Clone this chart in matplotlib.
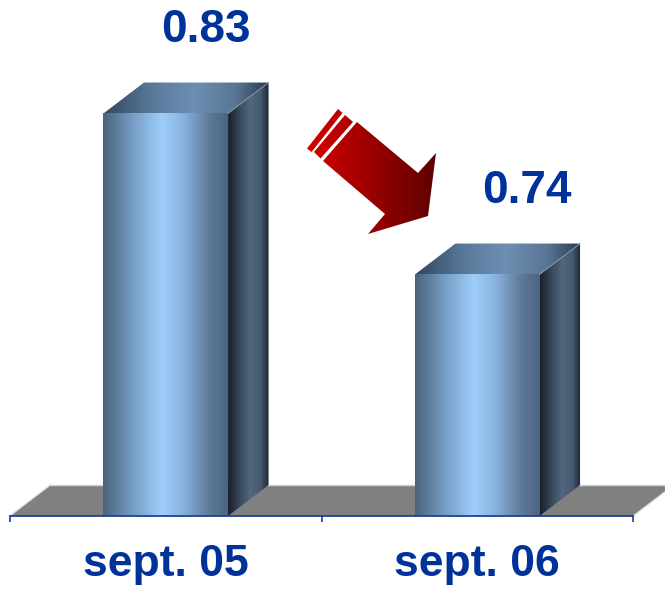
import numpy as np
import matplotlib
matplotlib.use('Agg')
import matplotlib.pyplot as plt
from matplotlib.patches import Polygon
from matplotlib.colors import LinearSegmentedColormap

categories = ['sept. 05', 'sept. 06']
values = [0.83, 0.74]
value_labels = ['0.83', '0.74']

BLUE_TXT = '#00339a'
plt.rcParams['font.family'] = ['Liberation Sans', 'DejaVu Sans']

fig = plt.figure(figsize=(6.65, 5.89), dpi=100)
ax = fig.add_axes([10/665, 73/589, 623/665, 516/589])
y0 = 0.605
ax.set_xlim(-0.5, 1.5)
ax.set_ylim(y0, y0 + 516/1789)

DX = 0.13      # depth in category units
DY = 0.0173    # depth in value units
W = 0.40

front_cmap = LinearSegmentedColormap.from_list('front', [
    (0.0, '#4a627c'), (0.22, '#7399c0'), (0.47, '#9ecefc'),
    (0.65, '#88b2dd'), (0.85, '#5e7a98'), (1.0, '#4c6480')])
side_cmap = LinearSegmentedColormap.from_list('side', [
    (0.0, '#161e28'), (0.3, '#3a4b5e'), (0.55, '#52677f'),
    (0.8, '#44586f'), (1.0, '#1c2531')])
top_cmap = LinearSegmentedColormap.from_list('top', [
    (0.0, '#34465b'), (0.3, '#5a7a9c'), (0.55, '#6d8fb2'),
    (0.8, '#5a7595'), (1.0, '#2c3a4b')])
arrow_cmap = LinearSegmentedColormap.from_list('arrow', ['#d80000', '#5e0000'])

grad = np.linspace(0, 1, 256).reshape(1, -1)


def grad_poly(pts, cmap, zorder):
    pts = np.asarray(pts)
    patch = Polygon(pts, closed=True, facecolor='none', edgecolor='none',
                    zorder=zorder, clip_on=False)
    ax.add_patch(patch)
    im = ax.imshow(grad, cmap=cmap, aspect='auto', interpolation='bilinear',
                   extent=[pts[:, 0].min(), pts[:, 0].max(),
                           pts[:, 1].min(), pts[:, 1].max()],
                   zorder=zorder, clip_on=True)
    im.set_clip_path(patch)
    return im

# floor
floor = Polygon([(-0.5, y0), (1.5, y0), (1.5 + DX, y0 + DY), (-0.5 + DX, y0 + DY)],
                closed=True, facecolor='#808080', edgecolor='none', zorder=1, clip_on=False)
ax.add_patch(floor)
ax.plot([-0.5 + DX, 1.5 + DX], [y0 + DY, y0 + DY], color='#c9d5ea', lw=1.0,
        zorder=1.5, clip_on=False, solid_capstyle='butt')
ax.plot([-0.5, -0.5 + DX], [y0, y0 + DY], color='#c9d5ea', lw=0.8, zorder=1.5, clip_on=False)
ax.plot([1.5, 1.5 + DX], [y0, y0 + DY], color='#c9d5ea', lw=0.8, zorder=1.5, clip_on=False)

label_dx = [0.13, 0.16]
for i, (v, lab) in enumerate(zip(values, value_labels)):
    x0, x1 = i - W / 2, i + W / 2
    grad_poly([(x0, y0), (x1, y0), (x1, v), (x0, v)], front_cmap, 3)
    grad_poly([(x1, y0), (x1 + DX, y0 + DY), (x1 + DX, v + DY), (x1, v)], side_cmap, 3)
    grad_poly([(x0, v), (x1, v), (x1 + DX, v + DY), (x0 + DX, v + DY)], top_cmap, 3)
    ax.plot([x1, x1 + DX], [v, v + DY], color='#8a9cb2', lw=0.6, zorder=4)
    ax.annotate(lab, xy=(i + label_dx[i], v + DY), xytext=(0, 29), textcoords='offset points',
                ha='center', va='baseline', fontsize=33, fontweight='bold',
                color=BLUE_TXT, annotation_clip=False)

# decorative arrow (pixel positions converted through axes fractions)
def px_to_data(pts):
    pts = np.asarray(pts, dtype=float)
    fx = (pts[:, 0] - 10) / 623
    fy = (516 - pts[:, 1]) / 516
    disp = ax.transAxes.transform(np.column_stack([fx, fy]))
    return ax.transData.inverted().transform(disp)

arrow_px = [(357, 122), (418, 173), (436, 153), (428, 216), (368, 234),
            (385, 214), (323, 161)]
stripe2_px = [(345, 115), (353, 122), (320.5, 158.5), (314, 152)]
stripe1_px = [(338, 109), (342.5, 113), (311.5, 152), (307, 148.5)]
for shape in (arrow_px, stripe2_px, stripe1_px):
    d = px_to_data(shape)
    grad_poly(d, arrow_cmap, 5)
for im in ax.images[-3:]:
    ext = px_to_data([(305, 240), (437, 105)])
    im.set_extent([ext[0, 0], ext[1, 0], ext[0, 1], ext[1, 1]])

ax.set_xlim(-0.5, 1.5)
ax.set_ylim(y0, y0 + 516/1789)

for s in ['top', 'right', 'left']:
    ax.spines[s].set_visible(False)
ax.spines['bottom'].set_color('#1f3f9a')
ax.spines['bottom'].set_linewidth(1.3)
ax.spines['bottom'].set_zorder(6)
ax.set_yticks([])
ax.set_xticks(range(len(categories)))
ax.set_xticklabels(categories, fontsize=32, fontweight='bold', color=BLUE_TXT)
ax.set_xticks([-0.5, 0.5, 1.5], minor=True)
ax.tick_params(axis='x', which='major', length=0, pad=20)
ax.tick_params(axis='x', which='minor', length=4, width=1.2, color='#1f3f9a', direction='out')
ax.patch.set_visible(False)

fig.savefig('out.png', dpi=100)
